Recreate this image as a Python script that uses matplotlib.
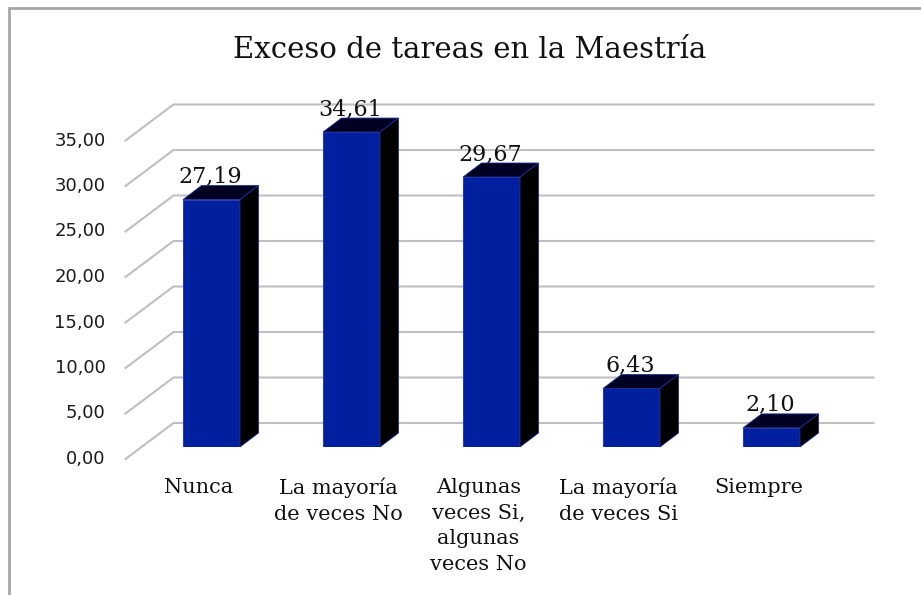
import matplotlib
matplotlib.use("Agg")
import matplotlib.pyplot as plt
from matplotlib.patches import Polygon, Rectangle
from matplotlib.transforms import IdentityTransform

# ---- data ----
categories = ["Nunca", "La mayoría\nde veces No", "Algunas\nveces Si,\nalgunas\nveces No",
              "La mayoría\nde veces Si", "Siempre"]
values = [27.19, 34.61, 29.67, 6.43, 2.10]
value_labels = ["27,19", "34,61", "29,67", "6,43", "2,10"]
ticks = [0, 5, 10, 15, 20, 25, 30, 35]
tick_labels = ["0,00", "5,00", "10,00", "15,00", "20,00", "25,00", "30,00", "35,00"]
title = "Exceso de tareas en la Maestría"

W, H = 921, 595
fig = plt.figure(figsize=(W / 100, H / 100), dpi=100)

# axes (bar plane) in pixels
ax_left, ax_right = 141.5, 841.5
ax_bottom_px, ax_top_px = 447, 128.5
ax = fig.add_axes([ax_left / W, 1 - ax_bottom_px / H,
                   (ax_right - ax_left) / W, (ax_bottom_px - ax_top_px) / H])
ax.set_xlim(-0.5, 4.5)
ax.set_ylim(0, 35)
ax.axis("off")

SERIF = ["DejaVu Serif"]
SANS = ["DejaVu Sans"]
grid_col = "#BFBFBF"
front_col = "#0020A0"
top_col = "#000022"
side_col = "#000000"

# depth offsets in pixels relative to the bar plane
FRONT = (-16, -12)
BACK = (32, 24)
BAR_D = (18.5, 14)

idt = IdentityTransform()

def D(x, y, off=(0, 0)):
    px, py = ax.transData.transform((x, y))
    return (px + off[0], py + off[1])

# walls gridlines
for t, lab in zip(ticks, tick_labels):
    fx, fy = D(-0.5, t, FRONT)
    bx, by = D(-0.5, t, BACK)
    rx, ry = D(4.5, t, BACK)
    ax.add_line(plt.Line2D([fx, bx, rx], [fy, by, ry], transform=idt,
                           color=grid_col, lw=1.5, zorder=1, clip_on=False))
    ax.text(fx - 20, fy, lab, transform=idt, ha="right", va="center",
            fontsize=13, family=SANS, color="#1a1a1a")

# bars
width = 57 / 140
bars = ax.bar(range(len(values)), values, width=width, color=front_col,
              edgecolor="#1a2fa0", lw=0.6, zorder=3)
for i, (v, lab) in enumerate(zip(values, value_labels)):
    x0, x1 = i - width / 2, i + width / 2
    p1 = D(x0, v); p2 = D(x1, v)
    top = [p1, p2, (p2[0] + BAR_D[0], p2[1] + BAR_D[1]), (p1[0] + BAR_D[0], p1[1] + BAR_D[1])]
    ax.add_patch(Polygon(top, closed=True, transform=idt, facecolor=top_col,
                         edgecolor="#1a2fa0", lw=0.6, zorder=3, clip_on=False))
    b2 = D(x1, 0)
    side = [b2, p2, (p2[0] + BAR_D[0], p2[1] + BAR_D[1]), (b2[0] + BAR_D[0], b2[1] + BAR_D[1])]
    ax.add_patch(Polygon(side, closed=True, transform=idt, facecolor=side_col,
                         edgecolor="#1a2fa0", lw=0.6, zorder=3, clip_on=False))
    cx, cy = D(i, v)
    ax.text(cx - 1, cy + BAR_D[1] + 3, lab, transform=idt, ha="center", va="baseline",
            fontsize=16, family=SERIF, color="#111111", zorder=5)
    lx, ly = D(i, 0)
    ax.text(lx - 13, ly - 31, categories[i], transform=idt, ha="center", va="top",
            multialignment="center", fontsize=15, family=SERIF, color="#111111",
            linespacing=1.45)

# title
fig.text(470 / W, 1 - 50 / H, title, ha="center", va="center", fontsize=21,
         family=SERIF, color="#111111")

# outer border
fig.add_artist(Rectangle((9 / W, -0.1), 1.2, 1 - 8 / H + 0.1, transform=fig.transFigure,
                         fill=False, edgecolor="#A6A6A6", lw=2))

fig.savefig("out.png", dpi=100)
